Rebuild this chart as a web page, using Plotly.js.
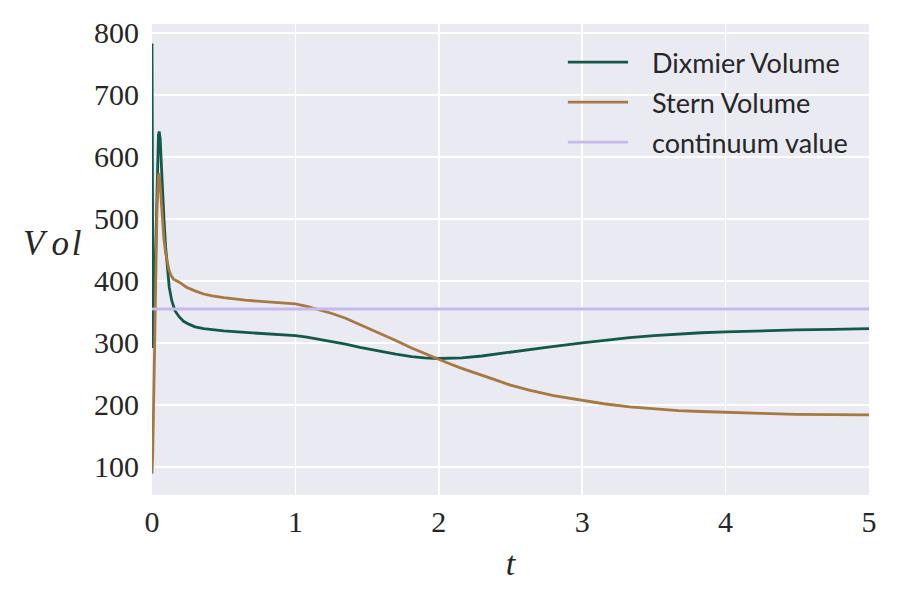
<!DOCTYPE html>
<html>
<head>
<meta charset="utf-8">
<script src="https://cdn.plot.ly/plotly-3.0.1.min.js"></script>
<style>html,body{margin:0;padding:0;background:#fff;}#chart{width:900px;height:600px;}</style>
</head>
<body>
<div id="chart"></div>
<script>
// Dixmier Volume
const dixT = [0, 0.003, 0.007, 0.015, 0.025, 0.035, 0.045, 0.05, 0.057, 0.067, 0.075, 0.084, 0.095, 0.107, 0.12, 0.137, 0.16, 0.19, 0.22, 0.26, 0.3, 0.36, 0.42, 0.5, 0.65, 0.8, 1.0, 1.08, 1.165, 1.25, 1.35, 1.45, 1.58, 1.7, 1.81, 1.9, 2.0, 2.08, 2.16, 2.3, 2.51, 2.75, 3.0, 3.15, 3.33, 3.5, 3.67, 3.83, 4.0, 4.25, 4.49, 4.75, 5.0];
const dixV = [783, 500, 292, 350, 450, 560, 635, 641, 630, 579, 535, 498, 455, 418, 390, 369, 352, 342, 335, 330, 326, 323, 321, 319.5, 317, 315, 312, 309.5, 306, 302, 298, 293, 287, 282, 278, 276, 275, 275, 276, 279, 286, 293, 300, 304, 308.5, 312, 314.5, 316.5, 318, 320, 321, 322, 323];
// Stern Volume
const sternT = [0, 0.005, 0.015, 0.025, 0.035, 0.045, 0.05, 0.06, 0.072, 0.083, 0.095, 0.105, 0.118, 0.133, 0.15, 0.19, 0.24, 0.3, 0.36, 0.42, 0.5, 0.65, 0.8, 1.0, 1.08, 1.165, 1.25, 1.35, 1.45, 1.58, 1.7, 1.81, 1.9, 2.0, 2.08, 2.16, 2.28, 2.4, 2.5, 2.63, 2.8, 3.0, 3.15, 3.33, 3.5, 3.67, 3.83, 4.0, 4.25, 4.49, 4.75, 5.0];
const sternV = [89, 120, 250, 400, 520, 570, 574, 545, 498, 468, 445, 430, 418, 409, 403, 398, 390, 384, 379, 376, 373, 369, 366.5, 363, 359, 354, 348, 340, 330, 316, 304, 292, 283, 274, 266, 259, 249, 240, 232, 224, 215, 207, 202, 197, 194, 191, 189.5, 188, 186.5, 185, 184.5, 184];
// continuum value
const contT = [0, 5];
const contV = [355, 355];

const xTicks = [0, 1, 2, 3, 4, 5];
const yTicks = [100, 200, 300, 400, 500, 600, 700, 800];
const seriesNames = ['Dixmier Volume', 'Stern Volume', 'continuum value'];
const seriesColors = ['#14584a', '#a67842', '#c6b9ee'];

const serif = "Liberation Serif, DejaVu Serif, serif";
const sans = "Lato, Noto Sans, DejaVu Sans, sans-serif";

const traces = [
  {x: dixT, y: dixV, mode: 'lines', name: seriesNames[0], line: {color: seriesColors[0], width: 2.8}},
  {x: sternT, y: sternV, mode: 'lines', name: seriesNames[1], line: {color: seriesColors[1], width: 2.8}},
  {x: contT, y: contV, mode: 'lines', name: seriesNames[2], line: {color: seriesColors[2], width: 3}}
];

// manual legend (paper coordinates)
const legY = [0.919, 0.834, 0.749];
const shapes = [];
const annotations = [];
seriesNames.forEach((n, i) => {
  shapes.push({type: 'line', xref: 'paper', yref: 'paper', x0: 0.580, x1: 0.664, y0: legY[i], y1: legY[i],
    line: {color: seriesColors[i], width: 2.8}});
  annotations.push({xref: 'paper', yref: 'paper', x: 0.695, y: legY[i], xanchor: 'left', yanchor: 'middle',
    text: n, showarrow: false, font: {family: sans, size: 27, color: '#262626'}});
});
annotations.push({xref: 'paper', yref: 'paper', x: -0.183, y: 0.535, xanchor: 'left', yanchor: 'middle',
  text: '<i>V&#8201;o&#8202;l</i>', showarrow: false, font: {family: serif, size: 35, color: '#262626'}});

const layout = {
  width: 900, height: 600,
  margin: {l: 152, r: 31, t: 24, b: 105},
  paper_bgcolor: '#ffffff',
  plot_bgcolor: '#eaeaf2',
  showlegend: false,
  xaxis: {
    range: [0, 5], tickvals: xTicks, ticktext: xTicks.map(String),
    showgrid: true, gridcolor: '#ffffff', gridwidth: 1.5,
    zeroline: false, showline: false, ticks: '', ticklen: 0,
    tickfont: {family: serif, size: 30, color: '#262626'},
    ticklabelstandoff: 6,
    title: {text: '<i>t</i>', font: {family: serif, size: 34, color: '#262626'}, standoff: 14}
  },
  yaxis: {
    range: [54.8, 814.5], tickvals: yTicks, ticktext: yTicks.map(String),
    showgrid: true, gridcolor: '#ffffff', gridwidth: 1.5,
    zeroline: false, showline: false, ticks: '', ticklen: 0,
    tickfont: {family: serif, size: 30, color: '#262626'},
    ticklabelstandoff: 12
  },
  shapes: shapes,
  annotations: annotations
};

Plotly.newPlot('chart', traces, layout, {displayModeBar: false, staticPlot: true});
</script>
</body>
</html>
